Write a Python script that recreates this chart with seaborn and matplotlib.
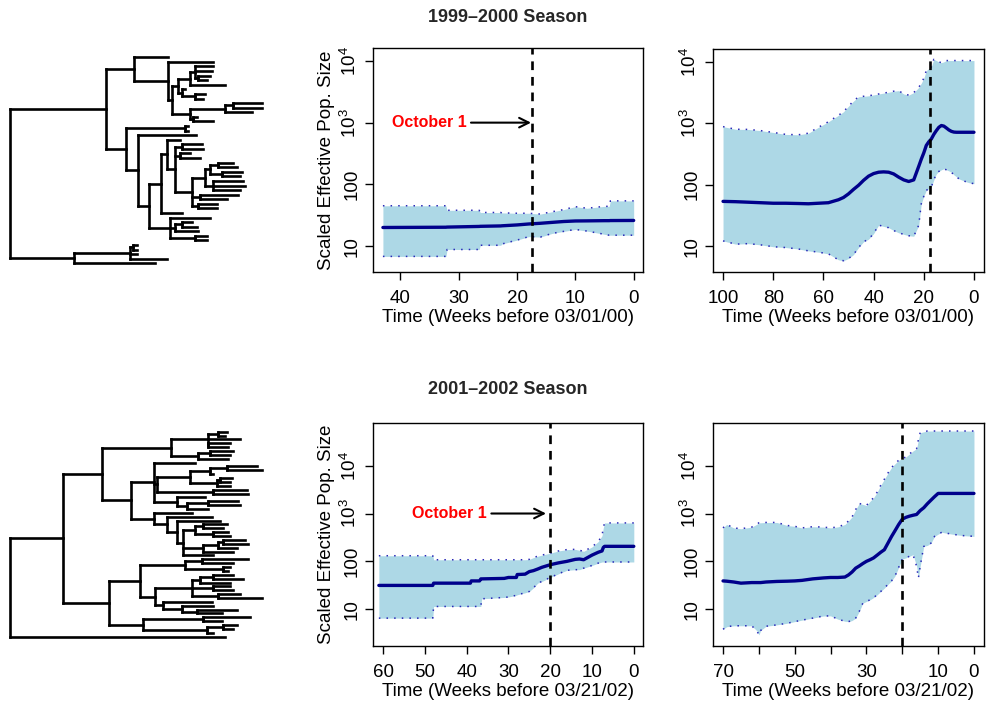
import numpy as np
import pandas as pd
import matplotlib
matplotlib.use("Agg")
import matplotlib.pyplot as plt
from matplotlib.ticker import NullLocator
import seaborn as sns

sns.set_style("white")
plt.rcParams['font.family'] = ['Liberation Sans', 'DejaVu Sans']
plt.rcParams['mathtext.fontset'] = 'custom'
plt.rcParams['mathtext.rm'] = 'Liberation Sans'
plt.rcParams['mathtext.it'] = 'Liberation Sans:italic'
plt.rcParams['mathtext.bf'] = 'Liberation Sans:bold'

# ---------------- data ----------------
TITLES = ["1999\u20132000 Season", "2001\u20132002 Season"]
XLABELS = ["Time (Weeks before 03/01/00)", "Time (Weeks before 03/21/02)"]
YLABEL = "Scaled Effective Pop. Size"
ANNOT = "October 1"
YTICKS = [10, 100, 1000, 10000]
YTICKLABELS = ["10", "100", "$10^3$", "$10^4$"]
OCT1_9900 = 17.4
OCT1_0102 = 20.1

# 1999-2000, short window
P1_WEEKS = [43, 32.2, 32.0, 26.5, 26.3, 22.8, 22.6, 20, 18, 16, 14, 12, 10, 8, 5, 4.2, 4.0, 0]
P1_MEDIAN = [20.0, 20.2, 20.3, 20.8, 20.9, 21.2, 21.3, 22.0, 22.8, 23.4, 24.2, 25.0, 25.5, 25.6, 25.8, 25.8, 25.9, 26.0]
P1_UPPER = [45, 45, 38, 38, 35, 35, 34.5, 34, 34, 33, 36, 39, 43.5, 41, 44, 44, 54, 54]
P1_LOWER = [6.8, 6.8, 8.8, 8.8, 10.3, 10.3, 10.8, 12.5, 14.2, 14, 16, 17.3, 18.6, 17.5, 15.5, 15, 15, 15]

# 1999-2000, long window
P2_WEEKS = [100, 95, 90, 85, 80, 75, 70, 66, 62, 58, 54, 52, 50, 48, 46, 44, 42, 40, 38, 36, 34, 32, 30,
            28, 26, 24, 22, 21, 20, 19, 18, 17, 16, 15, 14, 13, 12, 11, 10, 9, 8, 7, 6, 4, 2, 0]
P2_MEDIAN = [53.6, 53, 52, 51, 50, 50, 49.5, 49, 50, 51, 57, 62, 71, 84, 98, 118, 138, 152, 160, 162, 160,
             150, 133, 120, 113, 120, 200, 260, 330, 436, 500, 555, 660, 760, 860, 920, 900, 840, 780, 740,
             720, 715, 715, 715, 715, 715]
P2_UPPER = [883, 800, 795, 760, 710, 660, 650, 690, 860, 1060, 1350, 1540, 1900, 2300, 2700, 2750, 2800,
            2900, 3000, 3100, 3200, 3330, 3400, 3000, 2880, 3160, 3840, 4500, 5400, 7200, 7800, 8300, 11000,
            10500, 10000, 9700, 10000, 10500, 10500, 10500, 10500, 10500, 10500, 10500, 10500, 10500]
P2_LOWER = [12.2, 10.8, 11, 10.5, 9.8, 9.5, 9.0, 8.4, 8.0, 7.5, 6.0, 5.8, 6.3, 7.3, 9.5, 11.8, 13, 16, 22,
            21, 20, 18, 16.5, 15.6, 14.8, 14.5, 22, 49, 65, 81, 86, 92, 120, 150, 165, 175, 182, 175, 168,
            160, 145, 135, 125, 115, 108, 104]

# 2001-2002, short window
P3_WEEKS = [61, 48.1, 47.9, 39.1, 38.9, 36.9, 36.6, 36.4, 31, 30, 28.1, 27.9, 26, 25, 24, 23, 22, 20, 18,
            16, 14, 13, 12, 10, 8.5, 7.6, 7.3, 7, 0]
P3_MEDIAN = [31.4, 31.4, 35, 35, 39, 39, 43, 43, 44, 46, 46, 53, 54, 61, 64, 69, 75, 85, 93, 100, 110, 112,
             108, 135, 155, 165, 195, 206, 206]
P3_UPPER = [131, 131, 108, 108, 108, 108, 108, 108, 108, 108, 108, 108, 108, 110, 120, 128, 135, 148, 165,
            176, 178, 170, 162, 200, 260, 345, 500, 635, 635]
P3_LOWER = [6.5, 6.5, 11.4, 11.4, 11.4, 11.4, 11.4, 16.5, 17.6, 18, 19.5, 20, 22, 23.5, 28, 35, 38, 46, 55,
            65, 67, 67, 72, 82, 92, 97, 97, 97, 97]

# 2001-2002, long window
P4_WEEKS = [70, 69, 67, 65, 62, 60.5, 60, 59.5, 58, 55, 52, 50, 48, 45, 42, 40, 38, 36, 35, 34, 33, 32, 31,
            30, 29, 28, 27, 26, 25, 24, 23, 22, 21, 20, 19, 18, 17, 16, 15.5, 15, 14, 13, 12, 11, 10, 9, 7,
            5, 3, 0]
P4_MEDIAN = [39, 38.5, 37, 35, 36, 36, 36, 36, 37, 38, 38.5, 39, 40, 43, 45, 46, 46, 47, 52, 60, 72, 80, 90,
             100, 108, 118, 135, 155, 175, 240, 330, 440, 590, 760, 830, 880, 920, 955, 1050, 1150, 1320,
             1600, 1900, 2250, 2630, 2630, 2630, 2630, 2630, 2630]
P4_UPPER = [500, 590, 500, 480, 520, 600, 640, 640, 650, 650, 560, 540, 500, 530, 520, 500, 525, 590, 700,
            850, 1210, 1620, 1550, 1470, 1800, 2130, 2800, 3900, 5200, 7000, 9100, 11000, 13000, 14000,
            15200, 17500, 20300, 22700, 35000, 49000, 51000, 53000, 53000, 53000, 53000, 53000, 53000,
            53000, 53000, 53000]
P4_LOWER = [3.8, 4.3, 4.5, 4.5, 4.5, 3.5, 2.9, 3.6, 4.4, 4.7, 5.1, 5.5, 5.9, 6.5, 7.2, 7.25, 6.2, 5.6, 5.5,
            5.8, 6.5, 9, 13.4, 14.5, 15.7, 17.5, 20, 23.5, 27.6, 33, 39, 50, 75, 112, 118, 128, 138, 79, 45,
            79, 206, 215, 240, 333, 370, 405, 380, 360, 345, 333]

# Trees: internal node = [node depth, children...]; tip = tip depth
TREE_9900 = [30,
    [318,
        [403, 503,
            [505, 640,
                [515,
                    [535, [570, [585, 640, 635, [595, 630, 620]], 675], [545, 555, [585, 615, 610]]],
                    [570, [675, [700, 785, 785], 755], [580, 590, 640]]]]],
        [378, [555, 565, 565],
            [415, 588,
                [447,
                    [483,
                        [500, 540,
                            [525, [545, 605, 610], [540, 570, 600],
                                [575, [615, [630, [655, 700, 710], [665, 725, 720]], [640, 730, 735, 720]],
                                      [600, 715, 680], [595, 650, 650]]]],
                        545],
                    [510, 630, [525, [545, 575, 590], 595], [585, 620, 620]]]]]],
    [222, [390, [400, 410, 412], 410, 500], 465]]

TREE_0102 = [30,
    [188,
        [305,
            [512, [625, [655, 680, 675], 720, [625, 690, 685]], [595, [630, 700, 690], 685]],
            [393,
                [463, 585,
                    [470, [570, [630, [680, 770, 785], 640], [650, [660, 695, 690], 690]], [640, 740, 745]],
                    [530, 615, [560, [625, 715, 720], 625]]],
                [463, 575,
                    [500, 635,
                        [530, 660,
                            [550, [585, [610, 680, 670], [640, 685, 690]],
                                  [610, [655, [670, 735, 745], 710], 700], 640]]]]]],
        [328,
            [420,
                [555, [605, 745, 700], [670, 690, 685]],
                [465, [575, [600, [640, 700, 730], 690], [640, 690, 700], [655, 720, 785]],
                      [490, 635, [545, 640, [590, 710, 665]]]]],
            [430, [610, 750, 665], [620, [670, 710, 700], 640]]]],
    675]

# ---------------- drawing ----------------
W, H = 991, 704
fig = plt.figure(figsize=(W / 100, H / 100), dpi=100)


def rect(l, t, r, b):
    return [l / W, 1 - b / H, (r - l) / W, (b - t) / H]


def count_tips(n):
    return sum(count_tips(c) for c in n[1:]) if isinstance(n, list) else 1


def draw_node(ax, n, px, it):
    if isinstance(n, list):
        x = n[0]
        cy = [draw_node(ax, c, x, it) for c in n[1:]]
        y = (cy[0] + cy[-1]) / 2
        ax.plot([x, x], [cy[0], cy[-1]], color='black', lw=1.9, solid_capstyle='projecting')
    else:
        x = n
        y = next(it)
    ax.plot([px, x], [y, y], color='black', lw=1.9, solid_capstyle='projecting')
    return y


def draw_tree(r, tree, ymax, y0, y1):
    ax = fig.add_axes(r)
    n = count_tips(tree)
    it = iter(np.linspace(y0, y1, n))
    draw_node(ax, tree, tree[0], it)
    ax.set_xlim(0, 840)
    ax.set_ylim(ymax, 0)
    ax.axis('off')


draw_tree(rect(0, 30, 280, 280), TREE_9900, 750, 82, 700)
draw_tree(rect(0, 410, 280, 650), TREE_0102, 720, 65, 680)


def panel(r, weeks, med, lo, hi, xlim, ylim, xticks, xticklabels, vline, xlabel, ylabel=None, ann=None):
    ax = fig.add_axes(r)
    ax.set_yscale('log')
    df = pd.DataFrame({'w': weeks, 'med': med, 'lo': lo, 'hi': hi})
    ax.fill_between(df['w'], df['lo'], df['hi'], color='#ADD8E6', lw=0, zorder=1)
    for col in ['lo', 'hi']:
        sns.lineplot(data=df, x='w', y=col, ax=ax, sort=False, estimator=None, color='#2a2ab8',
                     lw=1.1, linestyle=(0, (1, 4)), zorder=2)
    sns.lineplot(data=df, x='w', y='med', ax=ax, sort=False, estimator=None, color='#00008B',
                 lw=2.4, zorder=3)
    ax.axvline(vline, color='black', lw=1.9, linestyle=(0, (3.3, 2.6)), zorder=4)
    ax.set_xlim(*xlim)
    ax.set_ylim(*ylim)
    ax.set_xticks(xticks)
    ax.set_xticklabels(xticklabels)
    ax.set_yticks(YTICKS)
    ax.set_yticklabels(YTICKLABELS, rotation=90, va='center')
    ax.yaxis.set_minor_locator(NullLocator())
    ax.tick_params(direction='out', length=6, width=1, labelsize=13.5, color='black',
                   labelcolor='black', bottom=True, left=True)
    ax.tick_params(axis='x', pad=7)
    ax.tick_params(axis='y', pad=3)
    for s in ax.spines.values():
        s.set_visible(True)
        s.set_color('black')
        s.set_linewidth(1.0)
    ax.set_xlabel(xlabel, fontsize=13.5, labelpad=1.5, color='black')
    if ylabel:
        ax.set_ylabel(ylabel, fontsize=13.5, labelpad=4, color='black')
    else:
        ax.set_ylabel('')
    if ann is not None:
        ax.annotate(ANNOT, xy=(ann[1], 1000), xytext=(ann[0], 1000), ha='right', va='center',
                    color='#FF0000', fontsize=11.5, fontweight='bold',
                    arrowprops=dict(arrowstyle='->,head_length=0.6,head_width=0.3', color='black',
                                    lw=1.5, shrinkA=1, shrinkB=0))
    return ax


panel(rect(373, 48, 643, 272), P1_WEEKS, P1_MEDIAN, P1_LOWER, P1_UPPER, (44.7, -1.6), (3.8, 16200),
      [40, 30, 20, 10, 0], ['40', '30', '20', '10', '0'], OCT1_9900, XLABELS[0], YLABEL, ann=(28.7, 17.6))
panel(rect(713, 49, 984, 272), P2_WEEKS, P2_MEDIAN, P2_LOWER, P2_UPPER, (104, -4), (3.8, 16200),
      [100, 80, 60, 40, 20, 0], ['100', '80', '60', '40', '20', '0'], OCT1_9900, XLABELS[0])
panel(rect(373, 423, 643, 646), P3_WEEKS, P3_MEDIAN, P3_LOWER, P3_UPPER, (62.4, -2.2), (1.7, 78000),
      [60, 50, 40, 30, 20, 10, 0], ['60', '50', '40', '30', '20', '10', '0'], OCT1_0102, XLABELS[1],
      YLABEL, ann=(35.2, 21.0))
panel(rect(713, 423, 984, 646), P4_WEEKS, P4_MEDIAN, P4_LOWER, P4_UPPER, (72.8, -2.8), (1.7, 78000),
      [70, 60, 50, 40, 30, 20, 10, 0], ['70', '', '50', '', '30', '', '10', '0'], OCT1_0102, XLABELS[1])

fig.text(508 / W, 1 - 18 / H, TITLES[0], ha='center', va='center', fontsize=13, fontweight='bold')
fig.text(508 / W, 1 - 390 / H, TITLES[1], ha='center', va='center', fontsize=13, fontweight='bold')

fig.savefig("out.png", dpi=100)
